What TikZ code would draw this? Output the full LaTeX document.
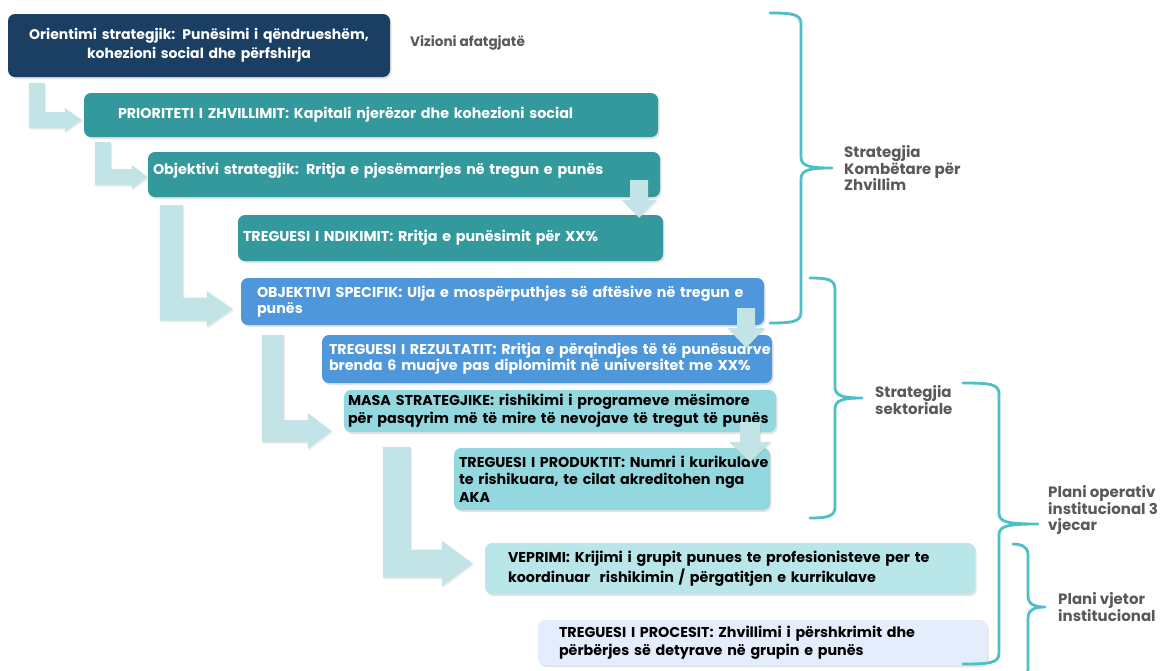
\documentclass[tikz,border=0pt]{standalone}
\usepackage{fontspec}
\setmainfont{Poppins}
\usetikzlibrary{shadows,calc}
\definecolor{navy}{HTML}{1B3F63}
\definecolor{tealA}{HTML}{33999D}
\definecolor{blueA}{HTML}{4F97DB}
\definecolor{ltealA}{HTML}{93D8DF}
\definecolor{ltealB}{HTML}{B9E6E9}
\definecolor{lblue}{HTML}{E3EDFB}
\definecolor{arrC}{HTML}{C2E4E7}
\definecolor{braceC}{HTML}{4CBFC7}
\definecolor{lblgray}{HTML}{595959}
\tikzset{
  box/.style n args={4}{rectangle, rounded corners=7pt, inner ysep=0pt,
    minimum width=#1pt, minimum height=#2pt, text width=#3pt, inner xsep=#4pt,
    align=left, drop shadow={shadow xshift=1.5pt, shadow yshift=-2pt, opacity=0.22}},
  fdark/.style={fill=navy, text=white},
  fteal/.style={fill=tealA, text=white},
  fblue/.style={fill=blueA, text=white},
  flt/.style={fill=ltealA, text=black},
  flt2/.style={fill=ltealB, text=black},
  flb/.style={fill=lblue, text=black},
  arrfill/.style={fill=arrC, drop shadow={shadow xshift=1pt, shadow yshift=-1.5pt, opacity=0.15}},
  bracest/.style={draw=braceC, line width=2.8pt, line cap=round, line join=round},
  lbl/.style={anchor=west, inner sep=0pt, align=left, text=lblgray,
    font=\bfseries\fontsize{15}{16.5}\selectfont},
}
% bent block arrow: #1 from, #2 to, #3 stem x offset, #4 stem gap, #5 tip dx, #6 tip dy (down), #7 thickness, #8 head half, #9 head length
\newcommand\bentarrow[9]{%
  \fill[arrfill] let \p1=(#1.south west), \p2=(#2.west) in
    (\x1+#3pt, \y1-#4pt) -- (\x1+#3pt+#7pt, \y1-#4pt)
    -- (\x1+#3pt+#7pt, \y2-#6pt+#7pt/2) -- (\x2+#5pt-#9pt, \y2-#6pt+#7pt/2)
    -- (\x2+#5pt-#9pt, \y2-#6pt+#8pt) -- (\x2+#5pt, \y2-#6pt)
    -- (\x2+#5pt-#9pt, \y2-#6pt-#8pt) -- (\x2+#5pt-#9pt, \y2-#6pt-#7pt/2)
    -- (\x1+#3pt, \y2-#6pt-#7pt/2) -- cycle;}
% down block arrow: #1 from, #2 to, #3 dx from to.north east, #4 stem top above from.south, #5 tip below to.north, #6 stem width, #7 head half, #8 head length
\newcommand\downarrowblk[8]{%
  \fill[arrfill] let \p1=(#1.south), \p2=(#2.north east) in
    (\x2+#3pt-#6pt/2, \y1+#4pt) -- (\x2+#3pt+#6pt/2, \y1+#4pt)
    -- (\x2+#3pt+#6pt/2, \y2-#5pt+#8pt) -- (\x2+#3pt+#7pt, \y2-#5pt+#8pt)
    -- (\x2+#3pt, \y2-#5pt) -- (\x2+#3pt-#7pt, \y2-#5pt+#8pt)
    -- (\x2+#3pt-#6pt/2, \y2-#5pt+#8pt) -- cycle;}
% brace: x0 xv xt y0 ym y1
\newcommand\rightbracket[6]{%
  \draw[bracest] (#1,#4) .. controls (#2-9,#4) and (#2,#4+1) .. (#2,#4+11)
    -- (#2,#5-11) .. controls (#2,#5-2) and (#2+8,#5) .. (#3,#5)
    .. controls (#2+8,#5) and (#2,#5+2) .. (#2,#5+11)
    -- (#2,#6-11) .. controls (#2,#6-1) and (#2-9,#6) .. (#1,#6);}
\begin{document}
\begin{tikzpicture}[x=1pt,y=-1pt]
\useasboundingbox (0,0) rectangle (1161,670);
\fill[white] (0,0) rectangle (1161,670);

% boxes
\node[box={382}{63}{362}{10}, fdark, align=center, font=\bfseries\fontsize{14}{19.5}\selectfont] (b1) at (199,45.5)
  {\mbox{Orientimi strategjik: Punësimi i qëndrueshëm,}\\\mbox{kohezioni social dhe përfshirja}};
\node[box={574}{44}{506}{34}, fteal, font=\bfseries\fontsize{14.3}{17}\selectfont] (b2) at (371,115)
  {\mbox{PRIORITETI I ZHVILLIMIT: Kapitali njerëzor dhe kohezioni social}};
\node[box={512}{45}{502}{5}, fteal, font=\bfseries\fontsize{14.3}{17}\selectfont] (b3) at (404,174.5)
  {\mbox{Objektivi strategjik: Rritja e pjesëmarrjes në tregun e punës}\\[-6pt]\mbox{}};
\node[box={425}{46}{415}{5}, fteal, font=\bfseries\fontsize{14.3}{17}\selectfont] (b4) at (450.5,238)
  {\mbox{TREGUESI I NDIKIMIT: Rritja e punësimit për XX\%}};
\node[box={523}{47}{491}{16}, fblue, font=\bfseries\fontsize{14.3}{13.5}\selectfont] (b5) at (502.5,301.5)
  {\mbox{OBJEKTIVI SPECIFIK: Ulja e mospërputhjes së aftësive në tregun e}\\\mbox{punës}};
\node[box={450}{48}{436}{7}, fblue, font=\bfseries\fontsize{14.3}{13}\selectfont] (b6) at (547,359)
  {\mbox{TREGUESI I REZULTATIT: Rritja e përqindjes të të punësuarve}\\\mbox{brenda 6 muajve pas diplomimit në universitet me XX\%}};
\node[box={432}{42}{424}{4}, flt, font=\bfseries\fontsize{14.3}{18}\selectfont] (b7) at (560,411)
  {\mbox{MASA STRATEGJIKE: rishikimi i programeve mësimore}\\\mbox{për pasqyrim më të mire të nevojave të tregut të punës}};
\node[box={316}{62}{306}{5}, flt, font=\bfseries\fontsize{14.3}{17.5}\selectfont] (b8) at (612,479)
  {\mbox{TREGUESI I PRODUKTIT: Numri i kurikulave}\\\mbox{te rishikuara, te cilat akreditohen nga}\\\mbox{AKA}};
\node[box={490}{51}{444}{23}, flt2, font=\bfseries\fontsize{14.3}{20}\selectfont] (b9) at (730,568.5)
  {\mbox{VEPRIMI: Krijimi i grupit punues te profesionisteve per te}\\\mbox{koordinuar\ \ rishikimin / përgatitjen e kurrikulave}};
\node[box={449}{45}{407}{21}, flb, font=\bfseries\fontsize{14.3}{18}\selectfont] (b10) at (762.5,642.5)
  {\mbox{TREGUESI I PROCESIT: Zhvillimi i përshkrimit dhe}\\\mbox{përbërjes së detyrave në grupin e punës}};

% bent arrows
\bentarrow{b1}{b2}{21}{6}{-2}{5}{16}{12}{17}
\bentarrow{b2}{b3}{11}{5}{0}{2.5}{16}{12}{16}
\bentarrow{b3}{b5}{12}{8}{-8}{7.5}{23}{18}{26}
\bentarrow{b5}{b7}{21}{10}{-12}{20}{22}{18}{24}
\bentarrow{b7}{b9}{39}{15}{-12}{-5}{28}{23}{31}

% down arrows
\downarrowblk{b3}{b4}{-24}{17}{3}{18}{17.5}{18}
\downarrowblk{b5}{b6}{-26}{17}{13}{18}{19}{20}
\downarrowblk{b7}{b8}{-20}{10}{14}{20}{21}{20}

% braces
\rightbracket{770}{801}{832}{13}{168}{323}
\rightbracket{810}{835}{862}{278}{398}{518}
\rightbracket{963}{999}{1038}{383}{524}{664}
\rightbracket{1013}{1028}{1045}{544}{607}{680}

% labels
\node[lbl, font=\bfseries\fontsize{13.6}{16}\selectfont] (l0) at (410,43) {Vizioni afatgjatë};
\node[lbl] (l1) at (844,168) {Strategjia\\Kombëtare për\\Zhvillim};
\node[lbl] (l2) at (875,400) {Strategjia\\sektoriale};
\node[lbl] (l3) at (1048,510) {Plani operativ\\institucional 3\\vjecar};
\node[lbl] (l4) at (1058,607) {Plani vjetor\\institucional};
\end{tikzpicture}
\end{document}
